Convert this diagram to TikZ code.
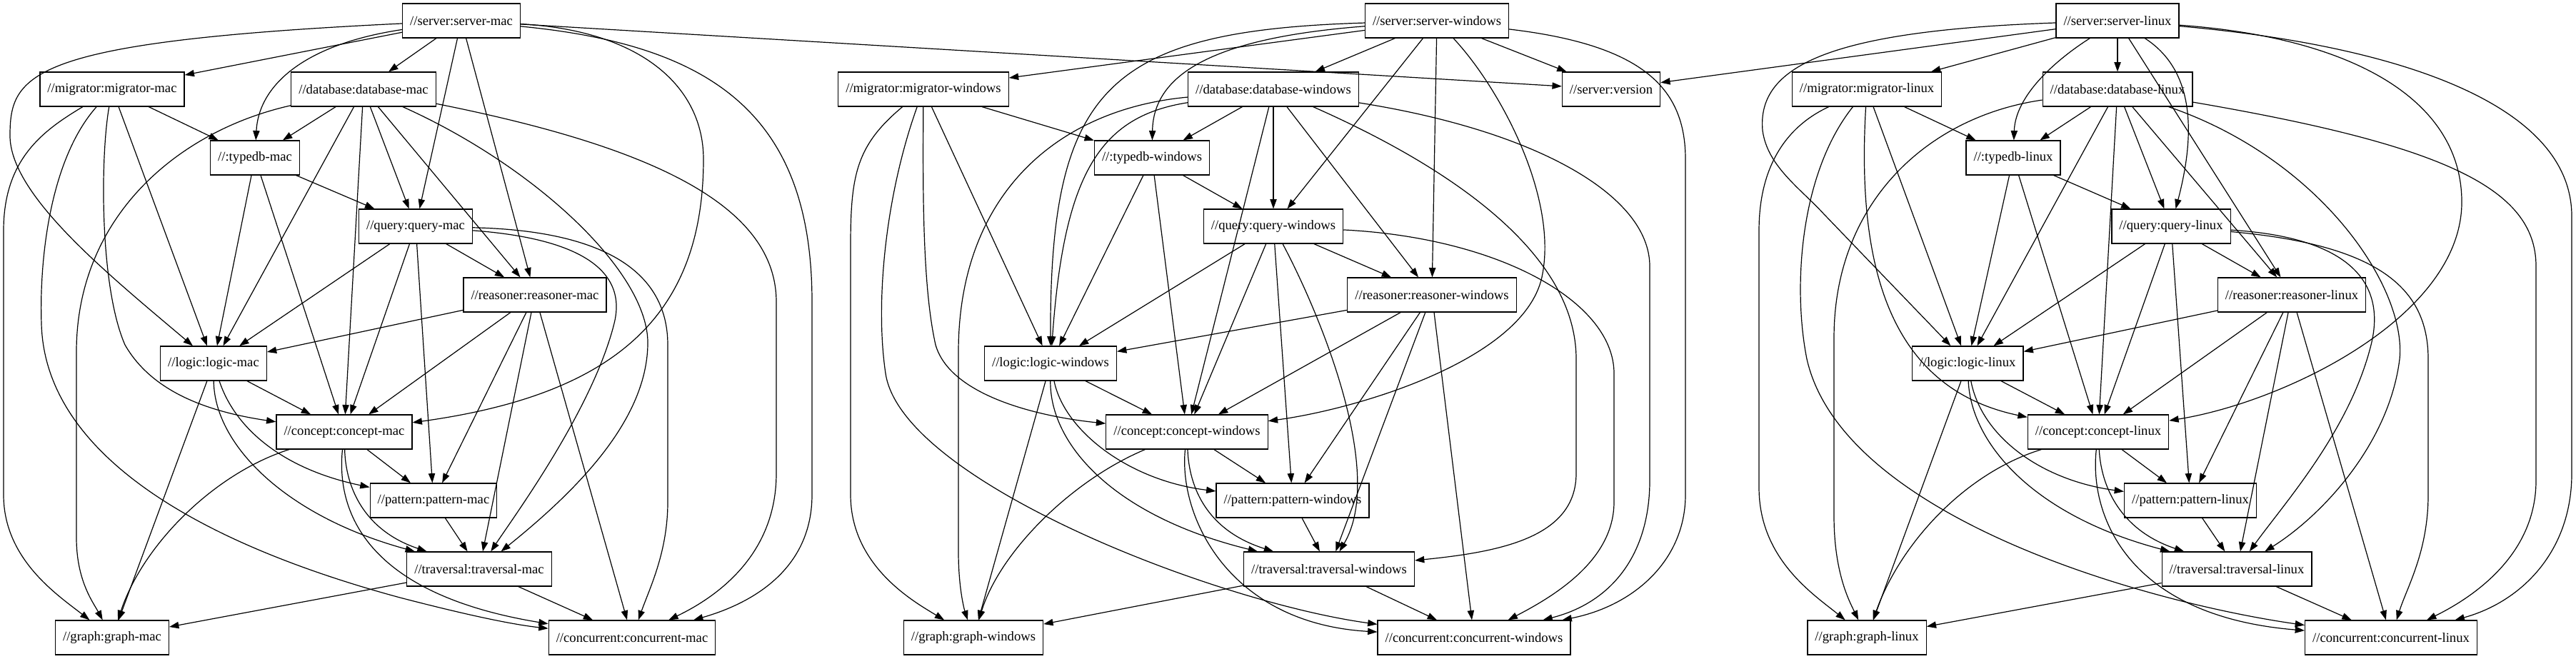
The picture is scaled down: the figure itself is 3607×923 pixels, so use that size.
\documentclass[tikz,border=0pt]{standalone}
\usepackage{fontspec}
\setmainfont{Liberation Serif}
\usetikzlibrary{arrows.meta}

\begin{document}
\begin{tikzpicture}
      [x = 0.75pt, y = 0.75pt,
      box/.style= {
         draw,
         rectangle,
         line width = 0.9pt,
         minimum height = 36pt,
         inner xsep = 7.9pt,
         inner ysep = 0pt,
         font = \fontsize{14pt}{16pt}\selectfont
      },
      dep/.style= {
         line width = 0.9pt,
         -{Triangle[length = 10pt, width = 7pt]}
      }]

      \useasboundingbox (0, 0) rectangle (3607, 923);
      \fill[white] (0, 0) rectangle (3607, 923);

      \node[box] (smac) at (646, 894) {//server:server-mac};
      \node[box] (migmac) at (157, 798) {//migrator:migrator-mac};
      \node[box] (dbmac) at (509, 798) {//database:database-mac};
      \node[box] (tdbmac) at (357, 702) {//:typedb-mac};
      \node[box] (qmac) at (582, 606) {//query:query-mac};
      \node[box] (rmac) at (749, 510) {//reasoner:reasoner-mac};
      \node[box] (lmac) at (299, 414) {//logic:logic-mac};
      \node[box] (cmac) at (482, 318) {//concept:concept-mac};
      \node[box] (pmac) at (607, 222) {//pattern:pattern-mac};
      \node[box] (tmac) at (671, 126) {//traversal:traversal-mac};
      \node[box] (gmac) at (157, 30) {//graph:graph-mac};
      \node[box] (ccmac) at (885, 30) {//concurrent:concurrent-mac};

      \node[box] (swin) at (2012, 894) {//server:server-windows};
      \node[box] (migwin) at (1293, 798) {//migrator:migrator-windows};
      \node[box] (dbwin) at (1783, 798) {//database:database-windows};
      \node[box] (version) at (2256, 798) {//server:version};
      \node[box] (tdbwin) at (1613, 702) {//:typedb-windows};
      \node[box] (qwin) at (1783, 606) {//query:query-windows};
      \node[box] (rwin) at (2005, 510) {//reasoner:reasoner-windows};
      \node[box] (lwin) at (1471, 414) {//logic:logic-windows};
      \node[box] (cwin) at (1662, 318) {//concept:concept-windows};
      \node[box] (pwin) at (1810, 222) {//pattern:pattern-windows};
      \node[box] (twin) at (1861, 126) {//traversal:traversal-windows};
      \node[box] (gwin) at (1363, 30) {//graph:graph-windows};
      \node[box] (ccwin) at (2064, 30) {//concurrent:concurrent-windows};

      \node[box] (slin) at (2965, 894) {//server:server-linux};
      \node[box] (miglin) at (2614, 798) {//migrator:migrator-linux};
      \node[box] (dblin) at (2965, 798) {//database:database-linux};
      \node[box] (tdblin) at (2819, 702) {//:typedb-linux};
      \node[box] (qlin) at (3040, 606) {//query:query-linux};
      \node[box] (rlin) at (3209, 510) {//reasoner:reasoner-linux};
      \node[box] (llin) at (2755, 414) {//logic:logic-linux};
      \node[box] (clin) at (2938, 318) {//concept:concept-linux};
      \node[box] (plin) at (3067, 222) {//pattern:pattern-linux};
      \node[box] (tlin) at (3132, 126) {//traversal:traversal-linux};
      \node[box] (glin) at (2614, 30) {//graph:graph-linux};
      \node[box] (cclin) at (3348, 30) {//concurrent:concurrent-linux};

      \foreach \p in {mac, win, lin}
         \foreach \a/\b in {s/mig, s/db, s/r, mig/tdb, mig/l, db/tdb, db/q, db/r,
               db/c, tdb/q, tdb/l, tdb/c, q/r, q/l, q/c, q/p, r/l, r/c, r/p, r/t,
               r/cc, l/c, l/g, c/p, p/t, t/g, t/cc}
            \draw[dep] (\a\p) -- (\b\p);

      \draw[dep] (smac) -- (version);
      \draw[dep] (swin) -- (version);
      \draw[dep] (slin) -- (version);

      \draw[dep] (smac) -- (qmac);
      \draw[dep] (dbmac) -- (lmac);
      \draw[dep] (smac) .. controls (420, 860) and (362, 800) .. (tdbmac);
      \draw[dep] (smac) .. controls (40, 865) and (14, 820) .. (14, 733)
         .. controls (14, 650) and (150, 540) .. (lmac);
      \draw[dep] (smac) .. controls (900, 880) and (985, 800) .. (985, 700)
         .. controls (985, 480) and (860, 370) .. (cmac);
      \draw[dep] (smac) .. controls (1000, 860) and (1137, 760) .. (1137, 500)
         -- (1137, 230) .. controls (1137, 130) and (1060, 80) .. (ccmac);
      \draw[dep] (migmac) .. controls (140, 700) and (140, 520) .. (175, 440)
         .. controls (215, 370) and (300, 345) .. (cmac);
      \draw[dep] (migmac) .. controls (60, 740) and (5, 700) .. (5, 600)
         -- (5, 230) .. controls (5, 140) and (80, 90) .. (gmac);
      \draw[dep] (migmac) .. controls (70, 700) and (55, 560) .. (58, 470)
         .. controls (62, 300) and (250, 170) .. (560, 86)
         .. controls (660, 60) and (720, 48) .. (ccmac);
      \draw[dep] (dbmac) .. controls (750, 690) and (910, 540) .. (907, 440)
         .. controls (905, 330) and (800, 230) .. (tmac);
      \draw[dep] (dbmac) .. controls (250, 740) and (107, 620) .. (107, 430)
         -- (107, 170) .. controls (107, 110) and (130, 80) .. (gmac);
      \draw[dep] (dbmac) .. controls (900, 720) and (1087, 640) .. (1087, 500)
         -- (1087, 260) .. controls (1087, 150) and (1010, 90) .. (ccmac);
      \draw[dep] (qmac) .. controls (800, 590) and (880, 550) .. (860, 470)
         .. controls (830, 350) and (720, 200) .. (tmac);
      \draw[dep] (qmac) .. controls (850, 600) and (935, 540) .. (935, 440)
         -- (935, 220) .. controls (935, 150) and (910, 100) .. (ccmac);
      \draw[dep] (lmac) .. controls (330, 320) and (400, 265) .. (pmac);
      \draw[dep] (lmac) .. controls (300, 300) and (400, 200) .. (tmac);
      \draw[dep] (cmac) .. controls (484, 240) and (510, 180) .. (tmac);
      \draw[dep] (cmac) .. controls (300, 260) and (200, 160) .. (gmac);
      \draw[dep] (cmac) .. controls (470, 200) and (520, 90) .. (ccmac);

      \draw[dep] (swin) -- (qwin);
      \draw[dep] (swin) .. controls (1700, 870) and (1615, 820) .. (tdbwin);
      \draw[dep] (swin) .. controls (1550, 880) and (1470, 800) .. (lwin);
      \draw[dep] (swin) .. controls (2100, 800) and (2180, 650) .. (2160, 540)
         .. controls (2140, 420) and (1900, 350) .. (cwin);
      \draw[dep] (swin) .. controls (2300, 860) and (2360, 800) .. (2360, 700)
         -- (2360, 230) .. controls (2360, 140) and (2290, 75) .. (ccwin);
      \draw[dep] (migwin) .. controls (1292, 650) and (1292, 520) .. (1310, 440)
         .. controls (1330, 370) and (1450, 340) .. (cwin);
      \draw[dep] (migwin) .. controls (1200, 720) and (1191, 680) .. (1191, 580)
         -- (1191, 230) .. controls (1191, 130) and (1280, 80) .. (gwin);
      \draw[dep] (migwin) .. controls (1240, 650) and (1225, 500) .. (1240, 400)
         .. controls (1262, 250) and (1700, 80) .. (ccwin);
      \draw[dep] (dbwin) .. controls (1540, 760) and (1490, 680) .. (lwin);
      \draw[dep] (dbwin) .. controls (1480, 770) and (1342, 650) .. (1342, 430)
         -- (1342, 150) .. controls (1342, 100) and (1350, 70) .. (gwin);
      \draw[dep] (dbwin) .. controls (2050, 680) and (2207, 560) .. (2207, 420)
         -- (2207, 260) .. controls (2207, 170) and (2100, 150) .. (twin);
      \draw[dep] (dbwin) .. controls (2150, 740) and (2310, 650) .. (2310, 550)
         -- (2310, 250) .. controls (2310, 150) and (2260, 80) .. (ccwin);
      \draw[dep] (qwin) .. controls (1850, 480) and (1940, 260) .. (twin);
      \draw[dep] (qwin) .. controls (2100, 590) and (2260, 500) .. (2260, 400)
         -- (2260, 220) .. controls (2260, 140) and (2180, 90) .. (ccwin);
      \draw[dep] (lwin) .. controls (1490, 320) and (1580, 250) .. (pwin);
      \draw[dep] (lwin) .. controls (1470, 300) and (1560, 200) .. (twin);
      \draw[dep] (cwin) .. controls (1665, 240) and (1690, 180) .. (twin);
      \draw[dep] (cwin) .. controls (1500, 250) and (1400, 150) .. (gwin);
      \draw[dep] (cwin) .. controls (1650, 200) and (1720, 50) .. (ccwin);

      \draw[dep] (dblin) -- (llin);
      \draw[dep] (slin) .. controls (2880, 840) and (2822, 790) .. (tdblin);
      \draw[dep] (slin) .. controls (2560, 880) and (2460, 830) .. (2468, 740)
         .. controls (2475, 690) and (2520, 660) .. (2554, 623) -- (llin);
      \draw[dep] (slin) .. controls (3080, 820) and (3070, 720) .. (qlin);
      \draw[dep] (slin) .. controls (3300, 870) and (3447, 780) .. (3447, 640)
         .. controls (3447, 480) and (3200, 360) .. (clin);
      \draw[dep] (slin) .. controls (3350, 860) and (3601, 780) .. (3601, 620)
         -- (3601, 260) .. controls (3601, 150) and (3530, 80) .. (cclin);
      \draw[dep] (miglin) .. controls (2510, 750) and (2463, 700) .. (2463, 600)
         -- (2463, 240) .. controls (2463, 140) and (2540, 90) .. (glin);
      \draw[dep] (miglin) .. controls (2520, 680) and (2510, 520) .. (2530, 420)
         .. controls (2580, 200) and (3000, 80) .. (cclin);
      \draw[dep] (miglin) .. controls (2600, 560) and (2640, 380) .. (clin);
      \draw[dep] (dblin) .. controls (2700, 760) and (2568, 640) .. (2568, 450)
         -- (2568, 200) .. controls (2568, 120) and (2590, 80) .. (glin);
      \draw[dep] (dblin) .. controls (3250, 700) and (3370, 520) .. (3360, 420)
         .. controls (3345, 300) and (3250, 200) .. (tlin);
      \draw[dep] (dblin) .. controls (3420, 720) and (3551, 660) .. (3551, 550)
         -- (3551, 250) .. controls (3551, 150) and (3470, 90) .. (cclin);
      \draw[dep] (qlin) .. controls (3300, 590) and (3340, 520) .. (3320, 440)
         .. controls (3290, 320) and (3200, 220) .. (tlin);
      \draw[dep] (qlin) .. controls (3330, 580) and (3400, 520) .. (3400, 420)
         -- (3400, 230) .. controls (3400, 150) and (3370, 100) .. (cclin);
      \draw[dep] (llin) .. controls (2775, 310) and (2860, 250) .. (plin);
      \draw[dep] (llin) .. controls (2760, 300) and (2850, 200) .. (tlin);
      \draw[dep] (clin) .. controls (2942, 240) and (2970, 180) .. (tlin);
      \draw[dep] (clin) .. controls (2750, 260) and (2660, 160) .. (glin);
      \draw[dep] (clin) .. controls (2925, 200) and (2980, 60) .. (cclin);

   \end{tikzpicture}
\end{document}
